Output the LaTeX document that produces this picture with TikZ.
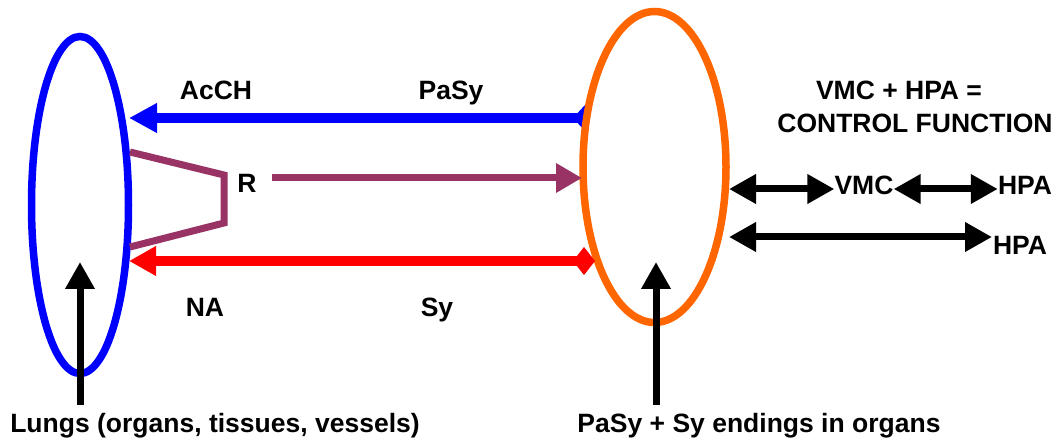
\documentclass[tikz,border=0pt]{standalone}
\usepackage{fontspec}
\setmainfont{Liberation Sans}
\usetikzlibrary{arrows.meta,shapes.geometric}
\definecolor{cblue}{HTML}{0000FF}
\definecolor{corange}{HTML}{FF6600}
\definecolor{cpurple}{HTML}{993366}
\definecolor{cred}{HTML}{FF0000}
\tikzset{
  lbl/.style={font=\fontsize{26.5}{30}\selectfont\bfseries, anchor=base, inner sep=0pt},
  oval/.style={ellipse, draw, fill=white, line width=7.5pt, inner sep=0pt},
  bigtip/.style={-{Triangle[length=27pt,width=28pt]}},
  dbltip/.style={{Triangle[length=27pt,width=28pt]}-{Triangle[length=27pt,width=28pt]}},
}
\begin{document}
\begin{tikzpicture}[x=1pt,y=1pt]
\useasboundingbox (0,0) rectangle (1063,444);
% coordinates for connector ends
\coordinate (bS) at (597,326);
\coordinate (bE) at (129,326);
\coordinate (rS) at (595,183);
\coordinate (rE) at (129,183);
\coordinate (pS) at (272,266);
\coordinate (pE) at (582,266);
\coordinate (lungB) at (80,39);
\coordinate (lungT) at (80,182);
\coordinate (orgB) at (656,39);
\coordinate (orgT) at (656,182);
% blue arrow (under orange ellipse)
\draw[cblue, line width=9.5pt, {Diamond[length=24pt,width=26pt]}-{Triangle[length=28pt,width=28pt]}] (bS) -- (bE);
% ellipses
\node[oval, draw=cblue, minimum width=97pt, minimum height=337pt] (lung) at (80,239) {};
\node[oval, draw=corange, minimum width=143pt, minimum height=311pt] (org) at (654.5,277) {};
% red arrow
\draw[cred, line width=9.5pt, {Diamond[length=22pt,width=28pt]}-{Triangle[length=27pt,width=28pt]}] (rS) -- (rE);
% purple bracket and arrow
\coordinate (k1) at (130,292);
\coordinate (k2) at (224,269);
\coordinate (k3) at (224,221);
\coordinate (k4) at (130,197);
\draw[cpurple, line width=7pt, miter limit=10] (k1) -- (k2) -- (k3) -- (k4);
\draw[cpurple, line width=7pt, -{Triangle[length=26pt,width=28pt]}] (pS) -- (pE);
% black arrows
\draw[black, line width=7pt, bigtip] (lungB) -- (lungT);
\draw[black, line width=7pt, bigtip] (orgB) -- (orgT);
% labels
\node[lbl] (acch) at (216,344) {AcCH};
\node[lbl] (pasy) at (451,344) {PaSy};
\node[lbl] (r) at (247,251) {R};
\node[lbl] (na) at (205,127) {NA};
\node[lbl] (sy) at (437,127) {Sy};
\node[lbl] (ctl1) at (899,344) {VMC + HPA =};
\node[lbl] (ctl2) at (915,311) {CONTROL FUNCTION};
\node[lbl] (vmc) at (864,249) {VMC};
\node[lbl] (hpa1) at (1025,249) {HPA};
\node[lbl] (hpa2) at (1020,189) {HPA};
\node[lbl] (lungs) at (215,11) {Lungs (organs, tissues, vessels)};
\node[lbl] (ends) at (759,11) {PaSy + Sy endings in organs};
% control arrows
\coordinate (c1) at (729,255);
\coordinate (c2) at (729,207);
\coordinate (c3) at (992,207);
\draw[black, line width=7pt, dbltip] (c1) -- (vmc.west |- c1);
\draw[black, line width=7pt, dbltip] (vmc.east |- c1) -- (hpa1.west |- c1);
\draw[black, line width=7pt, dbltip] (c2) -- (c3);
\end{tikzpicture}
\end{document}
